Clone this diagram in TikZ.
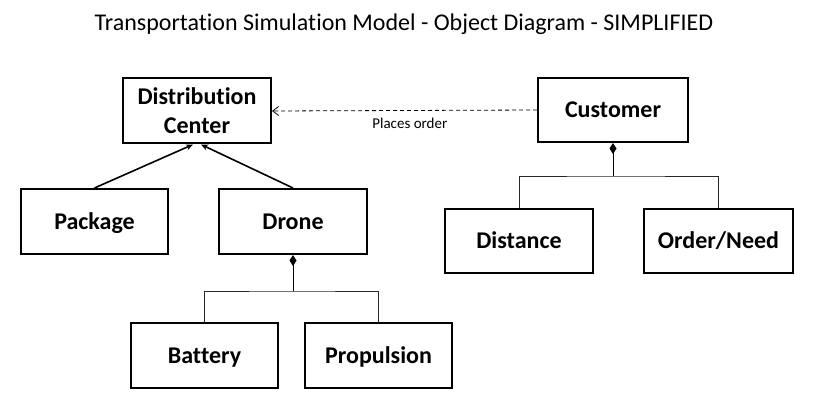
\documentclass[tikz,border=0pt]{standalone}
\usepackage{fontspec}
\setmainfont[Ligatures=NoCommon]{Carlito}
\usetikzlibrary{arrows.meta}
\begin{document}
\begin{tikzpicture}[x=1pt,y=-1pt,
  objbox/.style={draw, line width=2pt, minimum width=#1, minimum height=65pt, inner sep=0pt, align=center, text height=15.5pt, text depth=0pt, font=\bfseries\fontsize{24}{29}\selectfont},
  objbox/.default=148pt,
  gen/.style={line width=1.6pt, -{Stealth[length=7pt,width=6pt]}},
  comp/.style={line width=0.9pt, draw=black!85},
  compstart/.style={line width=0.9pt, {Diamond[length=11pt,width=7pt]}-}
]
\useasboundingbox (0,0) rectangle (818,406);
\node[font=\fontsize{24}{28}\selectfont] (title) at (404,24) {Transportation Simulation Model - Object Diagram - SIMPLIFIED};
\node[objbox, text height=44.5pt] (dc) at (197,111) {Distribution\\Center};
\node[objbox=150pt, minimum height=64pt] (cust) at (613,110) {Customer};
\node[objbox=147pt] (pkg) at (94.5,221.5) {Package};
\node[objbox] (drone) at (293,221.5) {Drone};
\node[objbox=147pt] (bat) at (204.5,355.5) {Battery};
\node[objbox=147pt] (prop) at (378.5,355.5) {Propulsion};
\node[objbox, minimum height=64pt] (dist) at (519,241) {Distance};
\node[objbox=149pt, minimum height=64pt] (ord) at (718.5,241) {Order/Need};

\draw[gen] (pkg.north) -- ([xshift=-4pt]dc.south);
\draw[gen] (drone.north) -- ([xshift=4pt]dc.south);

\draw[dashed, line width=0.8pt, dash pattern=on 4pt off 3pt, -{Straight Barb[length=6pt,width=9pt]}] (cust.west) -- (dc.east)
  node[pos=0.48, below=4pt, font=\fontsize{15}{18}\selectfont] (lbl) {Places order};

\draw[compstart] (cust.south) -- ++(0,33) coordinate (cj);
\draw[comp] (dist.north) |- (cj) -| (ord.north);

\draw[compstart] (drone.south) -- ++(0,36) coordinate (dj);
\draw[comp] (bat.north) |- (dj) -| (prop.north);
\end{tikzpicture}
\end{document}
